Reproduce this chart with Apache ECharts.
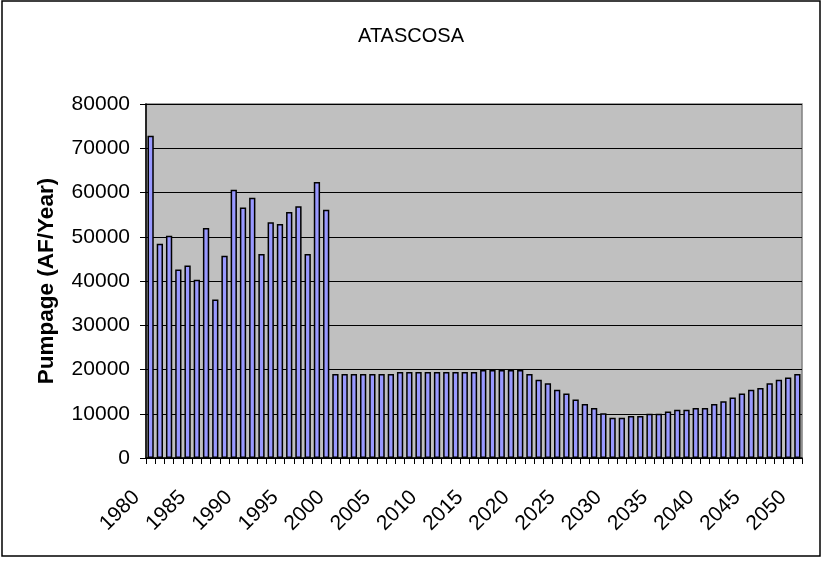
<!DOCTYPE html>
<html>
<head>
<meta charset="utf-8">
<script src="https://cdn.jsdelivr.net/npm/echarts@6/dist/echarts.min.js"></script>
<style>
  html, body { margin: 0; padding: 0; background: #ffffff; }
  #chart { width: 822px; height: 561px; }
</style>
</head>
<body>
<div id="chart"></div>
<script>
// Years on the category axis
const years = [
  '1980','1981','1982','1983','1984','1985','1986','1987','1988','1989',
  '1990','1991','1992','1993','1994','1995','1996','1997','1998','1999',
  '2000','2001','2002','2003','2004','2005','2006','2007','2008','2009',
  '2010','2011','2012','2013','2014','2015','2016','2017','2018','2019',
  '2020','2021','2022','2023','2024','2025','2026','2027','2028','2029',
  '2030','2031','2032','2033','2034','2035','2036','2037','2038','2039',
  '2040','2041','2042','2043','2044','2045','2046','2047','2048','2049',
  '2050'
];

// Recorded pumpage, 1980-1999 (AF/Year)
const historical = [
  72800, 48400, 50200, 42600, 43500, 40300, 52000, 35800, 45700, 60600,
  56600, 58800, 46100, 53300, 52900, 55600, 56900, 46100, 62400, 56100
];

// Projected pumpage, 2000-2050 (AF/Year)
const projected = [
  19000, 19000, 19000, 19000, 19000, 19000, 19000,
  19450, 19450, 19450, 19450, 19450, 19450, 19450, 19450, 19450,
  19900, 19900, 19900, 19900, 19900,
  19000, 17700, 16900, 15400, 14600, 13200, 12200, 11300, 10100,
  9100, 9100, 9500, 9500, 10000, 10000, 10500, 10900, 10900, 11300,
  11300, 12200, 12800, 13700, 14600, 15400, 15800, 16900, 17700, 18200,
  19000
];

const pumpage = historical.concat(projected);

const FONT = '"Liberation Sans", Arial, sans-serif';

const chart = echarts.init(document.getElementById('chart'), null, { renderer: 'canvas' });

chart.setOption({
  animation: false,
  backgroundColor: '#ffffff',
  title: {
    text: 'ATASCOSA',
    left: 'center',
    top: 21,
    textStyle: { fontFamily: FONT, fontSize: 20, fontWeight: 'normal', color: '#000000' }
  },
  grid: {
    left: 146,
    top: 104,
    right: 20,
    bottom: 103,
    show: true,
    backgroundColor: '#c0c0c0',
    borderColor: '#808080',
    borderWidth: 1.5
  },
  graphic: [{
    type: 'rect',
    shape: { x: 2, y: 1, width: 818, height: 555 },
    style: { fill: 'none', stroke: '#000000', lineWidth: 1.5 },
    silent: true
  }],
  xAxis: {
    type: 'category',
    data: years,
    boundaryGap: true,
    axisLine: { show: true, lineStyle: { color: '#000000', width: 1.5 } },
    axisTick: { show: true, interval: 0, length: 6, lineStyle: { color: '#000000' } },
    axisLabel: {
      interval: 4,
      rotate: 45,
      margin: 22,
      padding: [0, 20, 0, 0],
      fontFamily: FONT,
      fontSize: 21,
      color: '#000000'
    },
    splitLine: { show: false }
  },
  yAxis: {
    type: 'value',
    min: 0,
    max: 80000,
    interval: 10000,
    name: 'Pumpage (AF/Year)',
    nameLocation: 'middle',
    nameGap: 88,
    nameTextStyle: { fontFamily: FONT, fontSize: 22.5, fontWeight: 'bold', color: '#000000' },
    axisLine: { show: true, lineStyle: { color: '#000000', width: 1.5 } },
    axisTick: { show: true, length: 6, lineStyle: { color: '#000000' } },
    axisLabel: {
      margin: 16,
      fontFamily: FONT,
      fontSize: 21,
      color: '#000000',
      formatter: function (v) { return String(v); }
    },
    splitLine: { show: true, lineStyle: { color: '#000000', width: 1 } }
  },
  series: [{
    type: 'bar',
    data: pumpage,
    barWidth: '68%',
    itemStyle: { color: '#9999ff', borderColor: '#000000', borderWidth: 1.5 }
  }]
});
</script>
</body>
</html>
